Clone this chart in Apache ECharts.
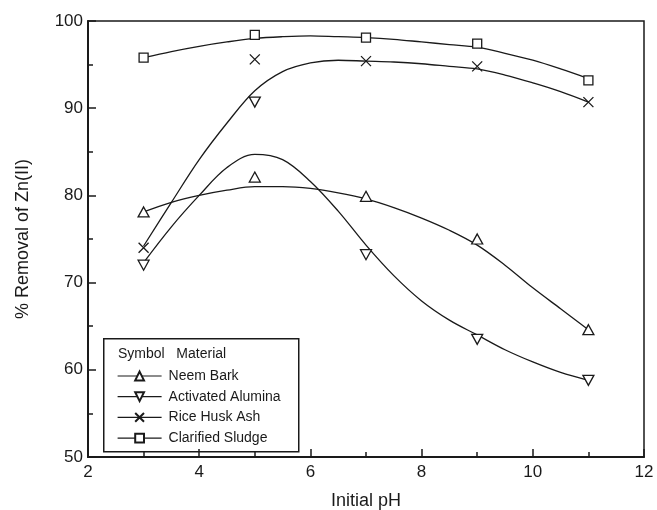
<!DOCTYPE html>
<html><head><meta charset="utf-8">
<script src="https://cdn.jsdelivr.net/npm/echarts@6/dist/echarts.min.js"></script>
<style>html,body{margin:0;padding:0;background:#fff}#c{width:657px;height:510px}</style>
</head><body><div id="c"></div>
<script>
// measured points
const phPoints = [3, 5, 7, 9, 11];
const neemBark = [78.1, 82.1, 79.9, 75.0, 64.6];
const activatedAlumina = [72.0, 90.7, 73.2, 63.5, 58.8];
const riceHuskAsh = [74.0, 95.6, 95.4, 94.8, 90.7];
const clarifiedSludge = [95.8, 98.4, 98.1, 97.4, 93.2];

// fitted curves
const curveX = [3, 3.5, 4, 4.5, 5, 5.5, 6, 6.5, 7, 7.5, 8, 8.5, 9, 9.5, 10, 10.5, 11];
const neemCurveY =    [78.1, 79.2, 80.0, 80.6, 81.0, 81.0, 80.8, 80.3, 79.6, 78.6, 77.4, 76.0, 74.3, 72.0, 69.4, 67.0, 64.6];
const aluminaCurveY = [72.3, 76.4, 80.0, 83.2, 84.7, 84.1, 81.6, 78.2, 74.3, 70.8, 67.9, 65.7, 64.0, 62.3, 60.9, 59.7, 58.8];
const riceCurveY =    [74.2, 79.2, 84.1, 88.3, 92.0, 94.2, 95.2, 95.5, 95.4, 95.3, 95.1, 94.8, 94.5, 93.8, 92.9, 91.9, 90.7];
const sludgeCurveY =  [95.8, 96.5, 97.1, 97.6, 98.0, 98.2, 98.3, 98.2, 98.1, 97.9, 97.6, 97.3, 97.0, 96.3, 95.5, 94.5, 93.4];

const seriesNames = ['Neem Bark', 'Activated Alumina', 'Rice Husk Ash', 'Clarified Sludge'];
const xTicks = {min: 2, max: 12, interval: 2};
const yTicks = {min: 50, max: 100, interval: 10};

const INK = '#1a1a1a';
const symUp = 'path://M5,0 L10,9 L0,9 Z';
const symDown = 'path://M0,0 L10,0 L5,9 Z';
const symX = 'path://M0,0 L10,10 M10,0 L0,10';
const symSq = 'path://M0,0 L10,0 L10,10 L0,10 Z';

const zip = (xs, ys) => xs.map((x, i) => [x, ys[i]]);

const defs = [
  {name: seriesNames[0], pts: neemBark, cy: neemCurveY, sym: symUp, size: [11, 10]},
  {name: seriesNames[1], pts: activatedAlumina, cy: aluminaCurveY, sym: symDown, size: [11, 10]},
  {name: seriesNames[2], pts: riceHuskAsh, cy: riceCurveY, sym: symX, size: [10, 10]},
  {name: seriesNames[3], pts: clarifiedSludge, cy: sludgeCurveY, sym: symSq, size: [9, 9]}
];

const series = [];
defs.forEach(d => {
  series.push({
    name: d.name, type: 'line', smooth: 0.35, showSymbol: false,
    symbol: d.sym, symbolSize: d.size,
    data: zip(curveX, d.cy),
    lineStyle: {color: INK, width: 1.3},
    itemStyle: {color: '#fff', borderColor: INK, borderWidth: 1.3},
    z: 2, silent: true
  });
  series.push({
    name: d.name + ' data', type: 'scatter',
    symbol: d.sym, symbolSize: d.size,
    data: zip(phPoints, d.pts),
    itemStyle: {color: '#fff', borderColor: INK, borderWidth: 1.3, opacity: 1},
    z: 3, silent: true
  });
});

const chart = echarts.init(document.getElementById('c'), null, {renderer: 'canvas'});
chart.setOption({
  animation: false,
  backgroundColor: '#fff',
  grid: {left: 88, top: 21, right: 13, bottom: 53, outerBoundsMode: 'none', containLabel: false,
         show: true, borderColor: INK, borderWidth: 1.5, backgroundColor: 'transparent'},
  xAxis: {
    type: 'value', min: xTicks.min, max: xTicks.max, interval: xTicks.interval,
    name: 'Initial pH', nameLocation: 'middle', nameGap: 35,
    nameTextStyle: {fontFamily: 'Liberation Sans', fontSize: 18, color: INK},
    axisLine: {show: true, onZero: false, lineStyle: {color: INK, width: 2}},
    axisTick: {show: true, inside: true, length: 8, lineStyle: {color: INK, width: 1.5}},
    minorTick: {show: true, splitNumber: 2, length: 5, lineStyle: {color: INK, width: 1.5}},
    axisLabel: {fontFamily: 'Liberation Sans', fontSize: 17, color: INK, margin: 7},
    splitLine: {show: false}
  },
  yAxis: {
    type: 'value', min: yTicks.min, max: yTicks.max, interval: yTicks.interval,
    name: '% Removal of Zn(II)', nameLocation: 'middle', nameGap: 56, nameRotate: 90,
    nameTextStyle: {fontFamily: 'Liberation Sans', fontSize: 18, color: INK},
    axisLine: {show: true, onZero: false, lineStyle: {color: INK, width: 2}},
    axisTick: {show: true, inside: true, length: 8, lineStyle: {color: INK, width: 1.5}},
    minorTick: {show: true, splitNumber: 2, length: 5, lineStyle: {color: INK, width: 1.5}},
    axisLabel: {fontFamily: 'Liberation Sans', fontSize: 17, color: INK, margin: 5},
    splitLine: {show: false}
  },
  legend: {
    data: seriesNames, orient: 'vertical', left: 112, top: 364,
    itemWidth: 44, itemHeight: 11, itemGap: 6.7, selectedMode: false,
    lineStyle: {width: 1.2},
    textStyle: {fontFamily: 'Liberation Sans', fontSize: 14, color: INK, padding: [0, 0, 0, 2]}
  },
  graphic: [
    {type: 'rect', left: 103, top: 338, shape: {width: 195, height: 113}, style: {fill: 'transparent', stroke: INK, lineWidth: 1.5}, z: 10},
    {type: 'text', left: 118, top: 347, style: {text: 'Symbol   Material', font: '14px "Liberation Sans"', fill: INK}, z: 10}
  ],
  series: series
});
</script></body></html>
